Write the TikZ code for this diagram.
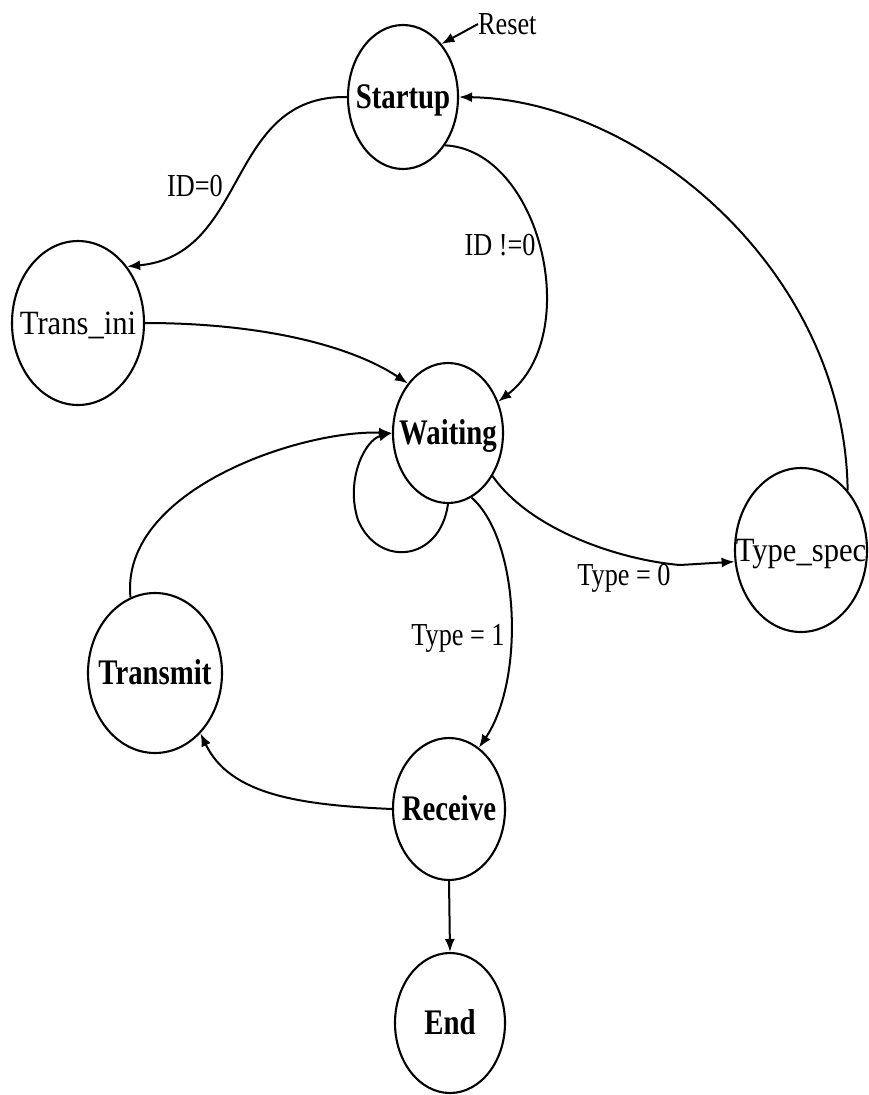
\documentclass[tikz,border=0pt]{standalone}
\usepackage{fontspec}
\setmainfont{Liberation Serif}
\newfontfamily\stfont[FakeStretch=0.8]{Liberation Serif}
\newfontfamily\srfont[FakeStretch=0.9]{Liberation Serif}
\newfontfamily\lbfont[FakeStretch=0.82]{Liberation Serif}
\usetikzlibrary{shapes.geometric,arrows.meta}
\begin{document}
\begin{tikzpicture}[x=1pt,y=-1pt,
  st/.style={ellipse,draw,line width=2.1pt,inner sep=0pt,text height=23pt,text depth=0pt},
  bigb/.style={font={\stfont\bfseries\fontsize{36pt}{36pt}\selectfont}},
  bigr/.style={font={\srfont\fontsize{34pt}{34pt}\selectfont}},
  lab/.style={font={\lbfont\fontsize{32pt}{32pt}\selectfont},inner sep=0pt},
  arr/.style={line width=2pt,-{Latex[length=13pt,width=10pt]}}]
\useasboundingbox (0,0) rectangle (868,1095);
\fill[white] (0,0) rectangle (868,1095);

\node[st,bigb,minimum width=110pt,minimum height=144pt] (S) at (403,97) {\makebox[0pt]{Startup}};
\node[st,bigr,minimum width=132pt,minimum height=164pt] (TI) at (78,323) {\makebox[0pt]{Trans\_ini}};
\node[st,bigb,minimum width=110pt,minimum height=140pt] (W) at (448,433) {\makebox[0pt]{Waiting}};
\node[st,bigr,minimum width=132pt,minimum height=164pt] (TS) at (801,550) {\makebox[0pt]{Type\_spec}};
\node[st,bigb,minimum width=134pt,minimum height=160pt] (TR) at (155,673) {\makebox[0pt]{Transmit}};
\node[st,bigb,minimum width=112pt,minimum height=142pt] (RC) at (449,809) {\makebox[0pt]{Receive}};
\node[st,bigb,minimum width=110pt,minimum height=140pt] (E) at (450,1023) {\makebox[0pt]{End}};

\node[lab,anchor=west] (R) at (478,24) {Reset};
\node[lab] (L1) at (195,186) {ID=0};
\node[lab] (L2) at (500,245) {ID !=0};
\node[lab] (L3) at (624,578) {Type = 0};
\node[lab] (L4) at (458,638) {Type = 1};

\coordinate (k) at (680,565);

\draw[arr] (R.west) -- (S.54);
\draw[arr] (S.west) .. controls (225,95) and (250,255) .. (TI.49);
\draw[arr] (S.-49) .. controls (540,150) and (585,335) .. (W.32);
\draw[arr] (TI.east) .. controls (260,323) and (350,345) .. (W.129);
\draw[arr] (TS.52) .. controls (845,270) and (640,100) .. (S.east);
\draw[arr] (W.270) .. controls (440,562) and (378,568) .. (358,520) .. controls (345,480) and (365,440) .. (W.west);
\draw[arr] (TR.108) .. controls (120,490) and (300,430) .. (W.west);
\draw[arr] (W.-44) .. controls (530,530) and (620,560) .. (k) -- (TS.190);
\draw[arr] (W.-70) .. controls (520,540) and (525,680) .. (RC.64);
\draw[arr] (RC.west) .. controls (300,805) and (230,795) .. (TR.-53);
\draw[arr] (RC.south) -- (E.north);
\end{tikzpicture}
\end{document}
